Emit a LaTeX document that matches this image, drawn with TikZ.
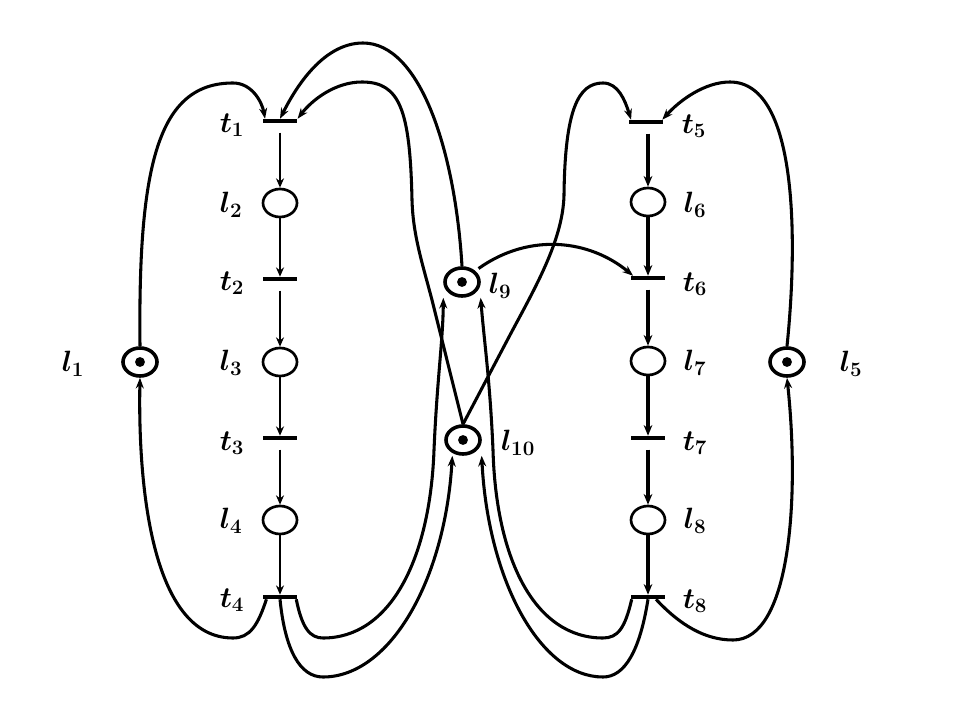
\documentclass[tikz,border=0pt]{standalone}
\usepackage{fix-cm}
\usetikzlibrary{shapes.geometric,arrows.meta}
\tikzset{
  place/.style={ellipse, draw, line width=2pt, minimum width=25.5pt, minimum height=21pt, inner sep=0pt},
  mplace/.style={place, line width=2.7pt},
  trans/.style={rectangle, fill=black, minimum width=26pt, minimum height=3pt, inner sep=0pt},
  lbl/.style={font=\fontsize{22}{26}\selectfont\boldmath, inner sep=0pt},
  arc/.style={line width=2.3pt, -{Stealth[length=8pt,width=6pt]}},
  lchain/.style={line width=1.6pt, -{Stealth[length=7pt,width=6pt]}},
  rchain/.style={line width=2.3pt, -{Stealth[length=8pt,width=6.5pt]}},
  token/.style={fill=black}
}
\begin{document}
\begin{tikzpicture}[x=0.75pt,y=-0.75pt]
\useasboundingbox (0,0) rectangle (960,720);
% left chain
\node[trans] (t1) at (280,121) {};
\node[place] (l2) at (280,203) {};
\node[trans] (t2) at (280,279) {};
\node[place] (l3) at (280,362) {};
\node[trans] (t3) at (280,438) {};
\node[place] (l4) at (280,520) {};
\node[trans] (t4) at (280,597) {};
% right chain
\node[trans] (t5) at (646,122) {};
\node[place] (l6) at (648,202) {};
\node[trans] (t6) at (648,278) {};
\node[place] (l7) at (648,361) {};
\node[trans] (t7) at (648,438) {};
\node[place] (l8) at (648,520) {};
\node[trans] (t8) at (648,597) {};
% marked places
\node[mplace] (l1) at (140,362) {};
\node[mplace] (l9) at (462,282) {};
\node[mplace] (l10) at (463,440) {};
\node[mplace] (l5) at (787,362) {};
\foreach \p in {l1,l9,l10,l5} \fill[token] (\p.center) circle[radius=3.7pt];
% labels
\node[lbl] (Ll1) at (73,364) {$l_1$};
\node[lbl] (Lt1) at (232,125) {$t_1$};
\node[lbl] (Ll2) at (231,205) {$l_2$};
\node[lbl] (Lt2) at (232,283) {$t_2$};
\node[lbl] (Ll3) at (231,363) {$l_3$};
\node[lbl] (Lt3) at (232,443) {$t_3$};
\node[lbl] (Ll4) at (231,521) {$l_4$};
\node[lbl] (Lt4) at (232,600) {$t_4$};
\node[lbl] (Lt5) at (694,126) {$t_5$};
\node[lbl] (Ll6) at (695,205) {$l_6$};
\node[lbl] (Lt6) at (695,284) {$t_6$};
\node[lbl] (Ll7) at (695,363) {$l_7$};
\node[lbl] (Lt7) at (695,443) {$t_7$};
\node[lbl] (Ll8) at (695,521) {$l_8$};
\node[lbl] (Lt8) at (695,601) {$t_8$};
\node[lbl] (Ll5) at (851,364) {$l_5$};
\node[lbl] (Ll9) at (500,286) {$l_9$};
\node[lbl] (Ll10) at (518,443) {$l_{10}$};
% chain arcs
\draw[lchain, shorten <=7pt] (t1) -- (l2);
\draw[lchain] (l2) -- (t2);
\draw[lchain, shorten <=7pt] (t2) -- (l3);
\draw[lchain] (l3) -- (t3);
\draw[lchain, shorten <=7pt] (t3) -- (l4);
\draw[lchain] (l4) -- (t4);
\draw[rchain, shorten <=7pt] (l6.north |- t5.south) -- (l6);
\draw[rchain] (l6) -- (t6);
\draw[rchain, shorten <=7pt] (t6) -- (l7);
\draw[rchain] (l7) -- (t7);
\draw[rchain, shorten <=7pt] (t7) -- (l8);
\draw[rchain] (l8) -- (t8);
% outer arcs
\draw[arc] (l1.north) .. controls (138,165) and (158,83) .. (233,83) .. controls (252,83) and (262,102) .. ([xshift=2pt]t1.north west);
\draw[arc] ([xshift=3pt]t4.south west) .. controls (258,625) and (250,638) .. (233,638) .. controls (150,638) and (138,480) .. (l1.south);
\draw[arc] (l9.north) .. controls (455,150) and (420,43) .. (363,43) .. controls (320,43) and (292,95) .. (t1.north);
\draw[arc] (l10.north) -- (432,300) .. controls (422,262) and (413,235) .. (412,200) .. controls (410,110) and (400,82) .. (362,82) .. controls (335,82) and (312,100) .. (t1.north east);
\draw[arc] (l10.north) -- (510,335) .. controls (535,288) and (563,240) .. (564,195) .. controls (565,110) and (578,83) .. (603,83) .. controls (618,83) and (625,100) .. ([xshift=2pt]t5.north west);
\draw[arc, shorten <=3pt] (l9.north east) .. controls (530,232) and (590,240) .. ([xshift=2pt]t6.north west);
\draw[arc] (l5.north) .. controls (797,250) and (800,82) .. (730,82) .. controls (705,82) and (680,100) .. ([xshift=-1pt]t5.north east);
\draw[arc] ([xshift=6pt]t8.south) .. controls (680,625) and (705,640) .. (733,640) .. controls (790,640) and (800,500) .. (l5.south);
% crossing arcs into l9 and l10
\draw[arc] (t4.south) .. controls (285,650) and (300,677) .. (323,677) .. controls (390,677) and (445,580) .. ([xshift=-8pt]l10.south);
\draw[arc] ([xshift=-1pt]t4.south east) .. controls (302,628) and (310,638) .. (323,638) .. controls (390,638) and (430,560) .. (434,450) .. controls (437,380) and (443,340) .. ([xshift=-14pt]l9.south);
\draw[arc] (t8.south) .. controls (640,650) and (625,677) .. (603,677) .. controls (540,677) and (488,580) .. ([xshift=14pt]l10.south);
\draw[arc] ([xshift=1pt]t8.south west) .. controls (625,628) and (618,638) .. (603,638) .. controls (535,638) and (496,560) .. (493,450) .. controls (490,380) and (484,340) .. ([xshift=14pt]l9.south);
\end{tikzpicture}
\end{document}
